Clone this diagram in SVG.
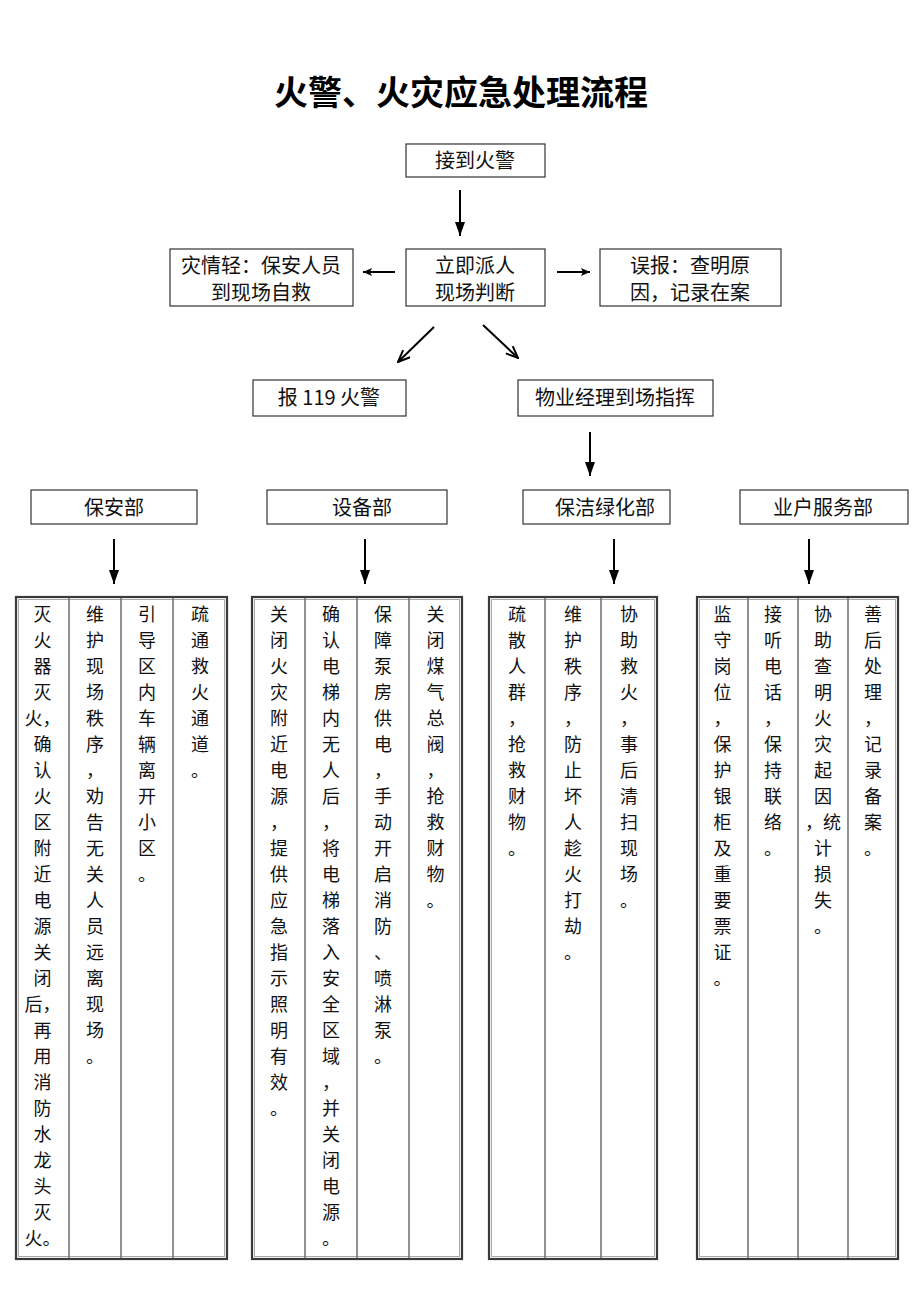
<svg xmlns="http://www.w3.org/2000/svg" width="920" height="1302" viewBox="0 0 920 1302">
<style>
.bg{fill:#fff}
.box{fill:#fff;stroke:#333;stroke-width:1.2}
.t{font-family:"Noto Sans CJK SC","Liberation Serif",sans-serif;font-size:20px;fill:#111;text-anchor:middle}
.c{font-family:"Noto Sans CJK SC","Liberation Serif",sans-serif;font-size:18px;fill:#111;text-anchor:middle}
.title{font-family:"Noto Sans CJK SC","Liberation Sans",sans-serif;font-size:34px;font-weight:bold;fill:#000;text-anchor:middle}
.outer{fill:#fff;stroke:#3a3a3a;stroke-width:2.2}
.inner{fill:none;stroke:#aaa;stroke-width:1}
.col{stroke:#777;stroke-width:1.6}
.ar{stroke:#000;stroke-width:2;fill:none}
</style>
<defs>
<marker id="tri" viewBox="0 0 14 10" refX="14" refY="5" markerWidth="14" markerHeight="10" markerUnits="userSpaceOnUse" orient="auto"><path d="M0,0 L14,5 L0,10 z" fill="#000"/></marker>
<marker id="sm" viewBox="0 0 9 8" refX="9" refY="4" markerWidth="9" markerHeight="8" markerUnits="userSpaceOnUse" orient="auto"><path d="M0,0 L9,4 L0,8 L2,4 z" fill="#000"/></marker>
<marker id="vee" viewBox="0 0 14 12" refX="13" refY="6" markerWidth="14" markerHeight="12" markerUnits="userSpaceOnUse" orient="auto"><path d="M1,1 L13,6 L1,11" fill="none" stroke="#000" stroke-width="2"/></marker>
</defs>
<rect class="bg" x="0" y="0" width="920" height="1302"/>
<text class="title" x="461" y="105">火警、火灾应急处理流程</text>

<g id="n-receive"><rect class="box" x="406" y="144" width="139" height="33"/><text class="t" x="475" y="168">接到火警</text></g>
<g id="n-dispatch"><rect class="box" x="406" y="249" width="139" height="57"/><text class="t" x="475" y="273">立即派人</text><text class="t" x="475" y="300">现场判断</text></g>
<g id="n-minor"><rect class="box" x="170" y="249" width="183" height="57"/><text class="t" x="261" y="273">灾情轻：保安人员</text><text class="t" x="261" y="300">到现场自救</text></g>
<g id="n-false"><rect class="box" x="600" y="249" width="181" height="57"/><text class="t" x="690" y="273">误报：查明原</text><text class="t" x="690" y="300">因，记录在案</text></g>
<g id="n-119"><rect class="box" x="253" y="380" width="153" height="36"/><text class="t" x="329" y="405">报 119 火警</text></g>
<g id="n-manager"><rect class="box" x="518" y="380" width="195" height="36"/><text class="t" x="615" y="405">物业经理到场指挥</text></g>

<g id="n-security"><rect class="box" x="31" y="490" width="166" height="34"/><text class="t" x="114" y="515">保安部</text></g>
<g id="n-equipment"><rect class="box" x="267" y="490" width="180" height="34"/><text class="t" x="362" y="515">设备部</text></g>
<g id="n-cleaning"><rect class="box" x="523" y="490" width="147" height="34"/><text class="t" x="605" y="515">保洁绿化部</text></g>
<g id="n-service"><rect class="box" x="740" y="490" width="168" height="34"/><text class="t" x="823" y="515">业户服务部</text></g>

<g id="connectors">
<line class="ar" x1="460" y1="190" x2="460" y2="236" marker-end="url(#tri)"/>
<line class="ar" x1="395" y1="272" x2="363" y2="272" marker-end="url(#sm)"/>
<line class="ar" x1="557" y1="272" x2="590" y2="272" marker-end="url(#sm)"/>
<line class="ar" x1="434" y1="327" x2="398" y2="362" marker-end="url(#vee)"/>
<line class="ar" x1="483" y1="325" x2="518" y2="358" marker-end="url(#vee)"/>
<line class="ar" x1="590" y1="432" x2="590" y2="476" marker-end="url(#tri)"/>
<line class="ar" x1="114" y1="539" x2="114" y2="584" marker-end="url(#tri)"/>
<line class="ar" x1="365" y1="539" x2="365" y2="584" marker-end="url(#tri)"/>
<line class="ar" x1="614" y1="539" x2="614" y2="584" marker-end="url(#tri)"/>
<line class="ar" x1="809" y1="539" x2="809" y2="584" marker-end="url(#tri)"/>
</g>

<g id="t-security">
<rect class="outer" x="16" y="597" width="211" height="662"/>
<rect class="inner" x="18.5" y="599.5" width="206" height="657"/>
<line class="col" x1="69" y1="598" x2="69" y2="1258"/>
<line class="col" x1="121" y1="598" x2="121" y2="1258"/>
<line class="col" x1="173" y1="598" x2="173" y2="1258"/>
<text class="c"><tspan x="42.5" y="621">灭</tspan><tspan x="42.5" dy="26">火</tspan><tspan x="42.5" dy="26">器</tspan><tspan x="42.5" dy="26">灭</tspan><tspan x="42.5" dy="26">火，</tspan><tspan x="42.5" dy="26">确</tspan><tspan x="42.5" dy="26">认</tspan><tspan x="42.5" dy="26">火</tspan><tspan x="42.5" dy="26">区</tspan><tspan x="42.5" dy="26">附</tspan><tspan x="42.5" dy="26">近</tspan><tspan x="42.5" dy="26">电</tspan><tspan x="42.5" dy="26">源</tspan><tspan x="42.5" dy="26">关</tspan><tspan x="42.5" dy="26">闭</tspan><tspan x="42.5" dy="26">后，</tspan><tspan x="42.5" dy="26">再</tspan><tspan x="42.5" dy="26">用</tspan><tspan x="42.5" dy="26">消</tspan><tspan x="42.5" dy="26">防</tspan><tspan x="42.5" dy="26">水</tspan><tspan x="42.5" dy="26">龙</tspan><tspan x="42.5" dy="26">头</tspan><tspan x="42.5" dy="26">灭</tspan><tspan x="42.5" dy="26">火。</tspan></text>
<text class="c"><tspan x="95" y="621">维</tspan><tspan x="95" dy="26">护</tspan><tspan x="95" dy="26">现</tspan><tspan x="95" dy="26">场</tspan><tspan x="95" dy="26">秩</tspan><tspan x="95" dy="26">序</tspan><tspan x="95" dy="26">，</tspan><tspan x="95" dy="26">劝</tspan><tspan x="95" dy="26">告</tspan><tspan x="95" dy="26">无</tspan><tspan x="95" dy="26">关</tspan><tspan x="95" dy="26">人</tspan><tspan x="95" dy="26">员</tspan><tspan x="95" dy="26">远</tspan><tspan x="95" dy="26">离</tspan><tspan x="95" dy="26">现</tspan><tspan x="95" dy="26">场</tspan><tspan x="95" dy="26">。</tspan></text>
<text class="c"><tspan x="147" y="621">引</tspan><tspan x="147" dy="26">导</tspan><tspan x="147" dy="26">区</tspan><tspan x="147" dy="26">内</tspan><tspan x="147" dy="26">车</tspan><tspan x="147" dy="26">辆</tspan><tspan x="147" dy="26">离</tspan><tspan x="147" dy="26">开</tspan><tspan x="147" dy="26">小</tspan><tspan x="147" dy="26">区</tspan><tspan x="147" dy="26">。</tspan></text>
<text class="c"><tspan x="200" y="621">疏</tspan><tspan x="200" dy="26">通</tspan><tspan x="200" dy="26">救</tspan><tspan x="200" dy="26">火</tspan><tspan x="200" dy="26">通</tspan><tspan x="200" dy="26">道</tspan><tspan x="200" dy="26">。</tspan></text>
</g>

<g id="t-equipment">
<rect class="outer" x="252" y="597" width="210" height="662"/>
<rect class="inner" x="254.5" y="599.5" width="205" height="657"/>
<line class="col" x1="305" y1="598" x2="305" y2="1258"/>
<line class="col" x1="357" y1="598" x2="357" y2="1258"/>
<line class="col" x1="409" y1="598" x2="409" y2="1258"/>
<text class="c"><tspan x="279" y="621">关</tspan><tspan x="279" dy="26">闭</tspan><tspan x="279" dy="26">火</tspan><tspan x="279" dy="26">灾</tspan><tspan x="279" dy="26">附</tspan><tspan x="279" dy="26">近</tspan><tspan x="279" dy="26">电</tspan><tspan x="279" dy="26">源</tspan><tspan x="279" dy="26">，</tspan><tspan x="279" dy="26">提</tspan><tspan x="279" dy="26">供</tspan><tspan x="279" dy="26">应</tspan><tspan x="279" dy="26">急</tspan><tspan x="279" dy="26">指</tspan><tspan x="279" dy="26">示</tspan><tspan x="279" dy="26">照</tspan><tspan x="279" dy="26">明</tspan><tspan x="279" dy="26">有</tspan><tspan x="279" dy="26">效</tspan><tspan x="279" dy="26">。</tspan></text>
<text class="c"><tspan x="331" y="621">确</tspan><tspan x="331" dy="26">认</tspan><tspan x="331" dy="26">电</tspan><tspan x="331" dy="26">梯</tspan><tspan x="331" dy="26">内</tspan><tspan x="331" dy="26">无</tspan><tspan x="331" dy="26">人</tspan><tspan x="331" dy="26">后</tspan><tspan x="331" dy="26">，</tspan><tspan x="331" dy="26">将</tspan><tspan x="331" dy="26">电</tspan><tspan x="331" dy="26">梯</tspan><tspan x="331" dy="26">落</tspan><tspan x="331" dy="26">入</tspan><tspan x="331" dy="26">安</tspan><tspan x="331" dy="26">全</tspan><tspan x="331" dy="26">区</tspan><tspan x="331" dy="26">域</tspan><tspan x="331" dy="26">，</tspan><tspan x="331" dy="26">并</tspan><tspan x="331" dy="26">关</tspan><tspan x="331" dy="26">闭</tspan><tspan x="331" dy="26">电</tspan><tspan x="331" dy="26">源</tspan><tspan x="331" dy="26">。</tspan></text>
<text class="c"><tspan x="383" y="621">保</tspan><tspan x="383" dy="26">障</tspan><tspan x="383" dy="26">泵</tspan><tspan x="383" dy="26">房</tspan><tspan x="383" dy="26">供</tspan><tspan x="383" dy="26">电</tspan><tspan x="383" dy="26">，</tspan><tspan x="383" dy="26">手</tspan><tspan x="383" dy="26">动</tspan><tspan x="383" dy="26">开</tspan><tspan x="383" dy="26">启</tspan><tspan x="383" dy="26">消</tspan><tspan x="383" dy="26">防</tspan><tspan x="383" dy="26">、</tspan><tspan x="383" dy="26">喷</tspan><tspan x="383" dy="26">淋</tspan><tspan x="383" dy="26">泵</tspan><tspan x="383" dy="26">。</tspan></text>
<text class="c"><tspan x="435.5" y="621">关</tspan><tspan x="435.5" dy="26">闭</tspan><tspan x="435.5" dy="26">煤</tspan><tspan x="435.5" dy="26">气</tspan><tspan x="435.5" dy="26">总</tspan><tspan x="435.5" dy="26">阀</tspan><tspan x="435.5" dy="26">，</tspan><tspan x="435.5" dy="26">抢</tspan><tspan x="435.5" dy="26">救</tspan><tspan x="435.5" dy="26">财</tspan><tspan x="435.5" dy="26">物</tspan><tspan x="435.5" dy="26">。</tspan></text>
</g>

<g id="t-cleaning">
<rect class="outer" x="489" y="597" width="168" height="662"/>
<rect class="inner" x="491.5" y="599.5" width="163" height="657"/>
<line class="col" x1="545" y1="598" x2="545" y2="1258"/>
<line class="col" x1="601" y1="598" x2="601" y2="1258"/>
<text class="c"><tspan x="517" y="621">疏</tspan><tspan x="517" dy="26">散</tspan><tspan x="517" dy="26">人</tspan><tspan x="517" dy="26">群</tspan><tspan x="517" dy="26">，</tspan><tspan x="517" dy="26">抢</tspan><tspan x="517" dy="26">救</tspan><tspan x="517" dy="26">财</tspan><tspan x="517" dy="26">物</tspan><tspan x="517" dy="26">。</tspan></text>
<text class="c"><tspan x="573" y="621">维</tspan><tspan x="573" dy="26">护</tspan><tspan x="573" dy="26">秩</tspan><tspan x="573" dy="26">序</tspan><tspan x="573" dy="26">，</tspan><tspan x="573" dy="26">防</tspan><tspan x="573" dy="26">止</tspan><tspan x="573" dy="26">坏</tspan><tspan x="573" dy="26">人</tspan><tspan x="573" dy="26">趁</tspan><tspan x="573" dy="26">火</tspan><tspan x="573" dy="26">打</tspan><tspan x="573" dy="26">劫</tspan><tspan x="573" dy="26">。</tspan></text>
<text class="c"><tspan x="629" y="621">协</tspan><tspan x="629" dy="26">助</tspan><tspan x="629" dy="26">救</tspan><tspan x="629" dy="26">火</tspan><tspan x="629" dy="26">，</tspan><tspan x="629" dy="26">事</tspan><tspan x="629" dy="26">后</tspan><tspan x="629" dy="26">清</tspan><tspan x="629" dy="26">扫</tspan><tspan x="629" dy="26">现</tspan><tspan x="629" dy="26">场</tspan><tspan x="629" dy="26">。</tspan></text>
</g>

<g id="t-service">
<rect class="outer" x="697" y="597" width="201" height="662"/>
<rect class="inner" x="699.5" y="599.5" width="196" height="657"/>
<line class="col" x1="748" y1="598" x2="748" y2="1258"/>
<line class="col" x1="798" y1="598" x2="798" y2="1258"/>
<line class="col" x1="848" y1="598" x2="848" y2="1258"/>
<text class="c"><tspan x="722.5" y="621">监</tspan><tspan x="722.5" dy="26">守</tspan><tspan x="722.5" dy="26">岗</tspan><tspan x="722.5" dy="26">位</tspan><tspan x="722.5" dy="26">，</tspan><tspan x="722.5" dy="26">保</tspan><tspan x="722.5" dy="26">护</tspan><tspan x="722.5" dy="26">银</tspan><tspan x="722.5" dy="26">柜</tspan><tspan x="722.5" dy="26">及</tspan><tspan x="722.5" dy="26">重</tspan><tspan x="722.5" dy="26">要</tspan><tspan x="722.5" dy="26">票</tspan><tspan x="722.5" dy="26">证</tspan><tspan x="722.5" dy="26">。</tspan></text>
<text class="c"><tspan x="773" y="621">接</tspan><tspan x="773" dy="26">听</tspan><tspan x="773" dy="26">电</tspan><tspan x="773" dy="26">话</tspan><tspan x="773" dy="26">，</tspan><tspan x="773" dy="26">保</tspan><tspan x="773" dy="26">持</tspan><tspan x="773" dy="26">联</tspan><tspan x="773" dy="26">络</tspan><tspan x="773" dy="26">。</tspan></text>
<text class="c"><tspan x="823" y="621">协</tspan><tspan x="823" dy="26">助</tspan><tspan x="823" dy="26">查</tspan><tspan x="823" dy="26">明</tspan><tspan x="823" dy="26">火</tspan><tspan x="823" dy="26">灾</tspan><tspan x="823" dy="26">起</tspan><tspan x="823" dy="26">因</tspan><tspan x="823" dy="26">，统</tspan><tspan x="823" dy="26">计</tspan><tspan x="823" dy="26">损</tspan><tspan x="823" dy="26">失</tspan><tspan x="823" dy="26">。</tspan></text>
<text class="c"><tspan x="873" y="621">善</tspan><tspan x="873" dy="26">后</tspan><tspan x="873" dy="26">处</tspan><tspan x="873" dy="26">理</tspan><tspan x="873" dy="26">，</tspan><tspan x="873" dy="26">记</tspan><tspan x="873" dy="26">录</tspan><tspan x="873" dy="26">备</tspan><tspan x="873" dy="26">案</tspan><tspan x="873" dy="26">。</tspan></text>
</g>
</svg>
